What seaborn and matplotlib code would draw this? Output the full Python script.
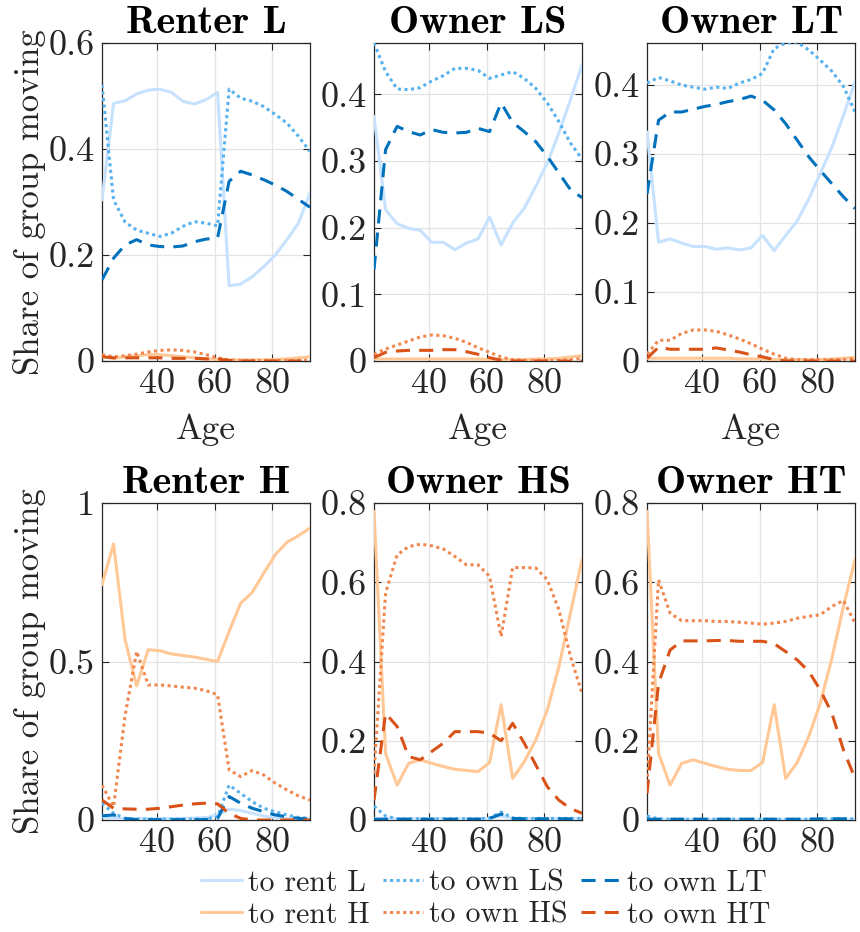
import numpy as np
import pandas as pd
import matplotlib
matplotlib.use("Agg")
import matplotlib.pyplot as plt
import seaborn as sns
from matplotlib.ticker import FuncFormatter, FixedLocator
from matplotlib.lines import Line2D

# ---------------- data ----------------
ages = [21, 25, 29, 33, 37, 41, 45, 49, 53, 57, 61, 65, 69, 73, 77, 81, 85, 89, 93]

series_names = ["to rent L", "to own LS", "to own LT", "to rent H", "to own HS", "to own HT"]
panel_titles = ["Renter L", "Owner LS", "Owner LT", "Renter H", "Owner HS", "Owner HT"]

# Renter L
rl_rentL = [0.304, 0.486, 0.491, 0.504, 0.511, 0.513, 0.507, 0.490, 0.485, 0.493, 0.507, 0.142, 0.145, 0.159, 0.178, 0.200, 0.229, 0.260, 0.317]
rl_ownLS = [0.521, 0.304, 0.262, 0.247, 0.241, 0.235, 0.241, 0.254, 0.263, 0.260, 0.255, 0.513, 0.496, 0.490, 0.480, 0.465, 0.449, 0.424, 0.395]
rl_ownLT = [0.153, 0.194, 0.219, 0.229, 0.219, 0.216, 0.215, 0.217, 0.225, 0.230, 0.232, 0.339, 0.358, 0.351, 0.342, 0.332, 0.320, 0.305, 0.290]
rl_rentH = [0.008, 0.005, 0.008, 0.010, 0.012, 0.012, 0.010, 0.008, 0.006, 0.004, 0.003, 0.002, 0.002, 0.002, 0.002, 0.003, 0.004, 0.006, 0.008]
rl_ownHS = [0.012, 0.008, 0.010, 0.013, 0.017, 0.020, 0.021, 0.020, 0.017, 0.012, 0.006, 0.002, 0.001, 0.001, 0.001, 0.001, 0.001, 0.001, 0.002]
rl_ownHT = [0.008, 0.006, 0.006, 0.006, 0.006, 0.006, 0.005, 0.005, 0.005, 0.004, 0.004, 0.001, 0.000, 0.000, 0.000, 0.000, 0.000, 0.000, 0.000]

# Owner LS
ls_rentL = [0.367, 0.227, 0.206, 0.199, 0.196, 0.178, 0.178, 0.167, 0.177, 0.183, 0.216, 0.174, 0.207, 0.229, 0.262, 0.297, 0.342, 0.392, 0.444]
ls_ownLS = [0.477, 0.434, 0.408, 0.407, 0.410, 0.420, 0.428, 0.439, 0.439, 0.436, 0.424, 0.429, 0.434, 0.424, 0.409, 0.387, 0.359, 0.327, 0.303]
ls_ownLT = [0.137, 0.317, 0.352, 0.344, 0.339, 0.347, 0.343, 0.342, 0.343, 0.349, 0.344, 0.387, 0.358, 0.344, 0.329, 0.307, 0.282, 0.257, 0.245]
ls_rentH = [0.003, 0.003, 0.003, 0.003, 0.003, 0.003, 0.003, 0.003, 0.003, 0.003, 0.002, 0.002, 0.002, 0.002, 0.003, 0.003, 0.004, 0.006, 0.008]
ls_ownHS = [0.010, 0.018, 0.024, 0.030, 0.036, 0.039, 0.038, 0.034, 0.028, 0.020, 0.013, 0.006, 0.002, 0.001, 0.001, 0.001, 0.001, 0.002, 0.004]
ls_ownHT = [0.005, 0.013, 0.015, 0.016, 0.016, 0.016, 0.017, 0.017, 0.014, 0.010, 0.005, 0.001, 0.000, 0.000, 0.000, 0.000, 0.000, 0.000, 0.000]

# Owner LT
lt_rentL = [0.332, 0.172, 0.177, 0.171, 0.166, 0.166, 0.162, 0.164, 0.161, 0.164, 0.182, 0.160, 0.182, 0.203, 0.235, 0.272, 0.310, 0.356, 0.405]
lt_ownLS = [0.403, 0.411, 0.406, 0.400, 0.397, 0.394, 0.397, 0.395, 0.403, 0.408, 0.417, 0.453, 0.461, 0.462, 0.451, 0.436, 0.420, 0.398, 0.361]
lt_ownLT = [0.242, 0.349, 0.361, 0.361, 0.365, 0.369, 0.372, 0.376, 0.379, 0.384, 0.378, 0.364, 0.344, 0.320, 0.296, 0.276, 0.257, 0.238, 0.221]
lt_rentH = [0.004, 0.004, 0.004, 0.004, 0.004, 0.004, 0.004, 0.004, 0.003, 0.003, 0.003, 0.002, 0.002, 0.002, 0.002, 0.002, 0.003, 0.004, 0.005]
lt_ownHS = [0.010, 0.030, 0.030, 0.040, 0.045, 0.045, 0.043, 0.038, 0.032, 0.025, 0.017, 0.010, 0.004, 0.002, 0.002, 0.002, 0.002, 0.002, 0.004]
lt_ownHT = [0.004, 0.020, 0.017, 0.017, 0.017, 0.017, 0.019, 0.016, 0.013, 0.009, 0.006, 0.002, 0.000, 0.000, 0.000, 0.000, 0.000, 0.000, 0.000]

# Renter H
rh_rentL = [0.010, 0.006, 0.004, 0.004, 0.004, 0.004, 0.004, 0.005, 0.006, 0.008, 0.016, 0.034, 0.030, 0.021, 0.013, 0.007, 0.004, 0.003, 0.002]
rh_ownLS = [0.053, 0.021, 0.005, 0.003, 0.003, 0.003, 0.003, 0.003, 0.003, 0.003, 0.010, 0.110, 0.084, 0.058, 0.037, 0.026, 0.016, 0.008, 0.005]
rh_ownLT = [0.013, 0.016, 0.005, 0.001, 0.001, 0.001, 0.001, 0.001, 0.001, 0.001, 0.005, 0.074, 0.053, 0.037, 0.026, 0.016, 0.010, 0.005, 0.003]
rh_rentH = [0.742, 0.871, 0.568, 0.423, 0.537, 0.534, 0.524, 0.519, 0.514, 0.507, 0.500, 0.595, 0.684, 0.718, 0.779, 0.837, 0.876, 0.897, 0.921]
rh_ownHS = [0.110, 0.042, 0.330, 0.532, 0.426, 0.426, 0.423, 0.419, 0.416, 0.408, 0.395, 0.158, 0.137, 0.156, 0.142, 0.116, 0.095, 0.076, 0.063]
rh_ownHT = [0.063, 0.037, 0.035, 0.034, 0.034, 0.037, 0.042, 0.047, 0.051, 0.053, 0.051, 0.021, 0.005, 0.000, 0.000, 0.000, 0.000, 0.000, 0.000]

# Owner HS
hs_rentL = [0.003, 0.003, 0.003, 0.003, 0.003, 0.003, 0.003, 0.003, 0.003, 0.003, 0.004, 0.010, 0.004, 0.003, 0.003, 0.003, 0.003, 0.003, 0.003]
hs_ownLS = [0.035, 0.010, 0.003, 0.003, 0.003, 0.003, 0.003, 0.003, 0.003, 0.003, 0.005, 0.020, 0.005, 0.004, 0.004, 0.004, 0.004, 0.004, 0.004]
hs_ownLT = [0.002, 0.002, 0.002, 0.002, 0.002, 0.002, 0.002, 0.002, 0.002, 0.002, 0.004, 0.015, 0.004, 0.003, 0.003, 0.003, 0.003, 0.003, 0.003]
hs_rentH = [0.779, 0.168, 0.088, 0.143, 0.152, 0.143, 0.135, 0.128, 0.125, 0.122, 0.145, 0.291, 0.105, 0.147, 0.202, 0.278, 0.387, 0.522, 0.657]
hs_ownHS = [0.118, 0.573, 0.669, 0.690, 0.696, 0.692, 0.684, 0.665, 0.644, 0.644, 0.615, 0.463, 0.637, 0.637, 0.636, 0.606, 0.531, 0.413, 0.320]
hs_ownHT = [0.050, 0.269, 0.236, 0.160, 0.152, 0.173, 0.194, 0.223, 0.223, 0.223, 0.219, 0.200, 0.244, 0.194, 0.139, 0.084, 0.050, 0.029, 0.017]

# Owner HT
ht_rentL = [0.003, 0.003, 0.003, 0.003, 0.003, 0.003, 0.003, 0.003, 0.003, 0.003, 0.003, 0.003, 0.003, 0.003, 0.003, 0.003, 0.003, 0.003, 0.003]
ht_ownLS = [0.010, 0.003, 0.002, 0.002, 0.002, 0.002, 0.002, 0.002, 0.002, 0.002, 0.002, 0.002, 0.002, 0.002, 0.002, 0.003, 0.003, 0.003, 0.003]
ht_ownLT = [0.002, 0.002, 0.002, 0.002, 0.002, 0.002, 0.002, 0.002, 0.002, 0.002, 0.002, 0.002, 0.002, 0.002, 0.002, 0.003, 0.003, 0.003, 0.003]
ht_rentH = [0.779, 0.168, 0.088, 0.143, 0.152, 0.143, 0.135, 0.128, 0.125, 0.125, 0.145, 0.291, 0.105, 0.145, 0.211, 0.295, 0.408, 0.539, 0.657]
ht_ownHS = [0.093, 0.606, 0.522, 0.503, 0.503, 0.503, 0.501, 0.501, 0.499, 0.497, 0.494, 0.497, 0.501, 0.509, 0.514, 0.518, 0.539, 0.554, 0.497]
ht_ownHT = [0.067, 0.345, 0.429, 0.452, 0.452, 0.452, 0.453, 0.453, 0.451, 0.451, 0.451, 0.445, 0.425, 0.404, 0.375, 0.328, 0.269, 0.177, 0.105]

panel_data = [
    [rl_rentL, rl_ownLS, rl_ownLT, rl_rentH, rl_ownHS, rl_ownHT],
    [ls_rentL, ls_ownLS, ls_ownLT, ls_rentH, ls_ownHS, ls_ownHT],
    [lt_rentL, lt_ownLS, lt_ownLT, lt_rentH, lt_ownHS, lt_ownHT],
    [rh_rentL, rh_ownLS, rh_ownLT, rh_rentH, rh_ownHS, rh_ownHT],
    [hs_rentL, hs_ownLS, hs_ownLT, hs_rentH, hs_ownHS, hs_ownHT],
    [ht_rentL, ht_ownLS, ht_ownLT, ht_rentH, ht_ownHS, ht_ownHT],
]

ylims = [(0, 0.6), (0, 0.477), (0, 0.461), (0, 1.0), (0, 0.8), (0, 0.8)]
yticks = [[0, 0.2, 0.4, 0.6], [0, 0.1, 0.2, 0.3, 0.4], [0, 0.1, 0.2, 0.3, 0.4],
          [0, 0.5, 1.0], [0, 0.2, 0.4, 0.6, 0.8], [0, 0.2, 0.4, 0.6, 0.8]]
xticks = [40, 60, 80]

# ---------------- style ----------------
sns.set_theme(style="white")
plt.rcParams["font.family"] = ["cmr10", "DejaVu Serif"]
plt.rcParams["axes.formatter.use_mathtext"] = True
plt.rcParams["mathtext.fontset"] = "cm"

colors = ["#c6e2ff", "#56b1ee", "#0072bd", "#ffc896", "#f0874e", "#d95319"]
styles = ["solid", (0, (1, 1.15)), (0, (4.6, 3.0)), "solid", (0, (1, 1.15)), (0, (4.6, 3.0))]
lw = 2.2

fig = plt.figure(figsize=(8.6, 9.32), dpi=100)
W, H = 860.0, 932.0
lefts = [102, 374, 647]
width = 208
rows = [(43, 361), (503, 820)]

axes = []
for r, (top, bot) in enumerate(rows):
    for c, left in enumerate(lefts):
        ax = fig.add_axes([left / W, 1 - bot / H, width / W, (bot - top) / H])
        axes.append(ax)

fmt = FuncFormatter(lambda v, p: f"{v:g}")

for i, ax in enumerate(axes):
    for j, name in enumerate(series_names):
        sns.lineplot(x=ages, y=panel_data[i][j], ax=ax, color=colors[j],
                     linestyle=styles[j], linewidth=lw, label=name, legend=False,
                     zorder=3 + j)
    ax.set_xlim(21, 93)
    ax.set_ylim(*ylims[i])
    ax.xaxis.set_major_locator(FixedLocator(xticks))
    ax.yaxis.set_major_locator(FixedLocator(yticks[i]))
    ax.yaxis.set_major_formatter(fmt)
    ax.xaxis.set_major_formatter(fmt)
    ax.grid(True, color="#e3e3e3", linewidth=0.9)
    ax.set_axisbelow(True)
    for s in ax.spines.values():
        s.set_color("#262626")
        s.set_linewidth(0.9)
        s.set_visible(True)
    ax.tick_params(direction="in", length=5, width=0.8, colors="#262626",
                   labelsize=26, top=True, right=True, left=True, bottom=True,
                   labelcolor="#262626", pad=5)
    ax.set_title(panel_titles[i], fontfamily=["cmb10", "DejaVu Serif"],
                 fontsize=29, fontweight="bold", pad=7, color="black")
    if i < 3:
        ax.set_xlabel("Age", fontsize=25.5, color="#262626", labelpad=10)
    else:
        ax.set_xlabel("")
    if i % 3 == 0:
        ax.set_ylabel("Share of group moving", fontsize=25, color="#262626", labelpad=2)
    else:
        ax.set_ylabel("")

handles = [Line2D([0], [0], color=colors[j], linestyle=styles[j], linewidth=lw)
           for j in range(6)]
order = [0, 3, 1, 4, 2, 5]
fig.legend([handles[k] for k in order], [series_names[k] for k in order],
           ncol=3, loc="center", bbox_to_anchor=(486 / W, 1 - 899 / H),
           frameon=False, fontsize=21.5, handlelength=1.35, handletextpad=0.2,
           columnspacing=0.45, labelspacing=0.15, borderpad=0.0)

fig.savefig("out.png", dpi=100)
